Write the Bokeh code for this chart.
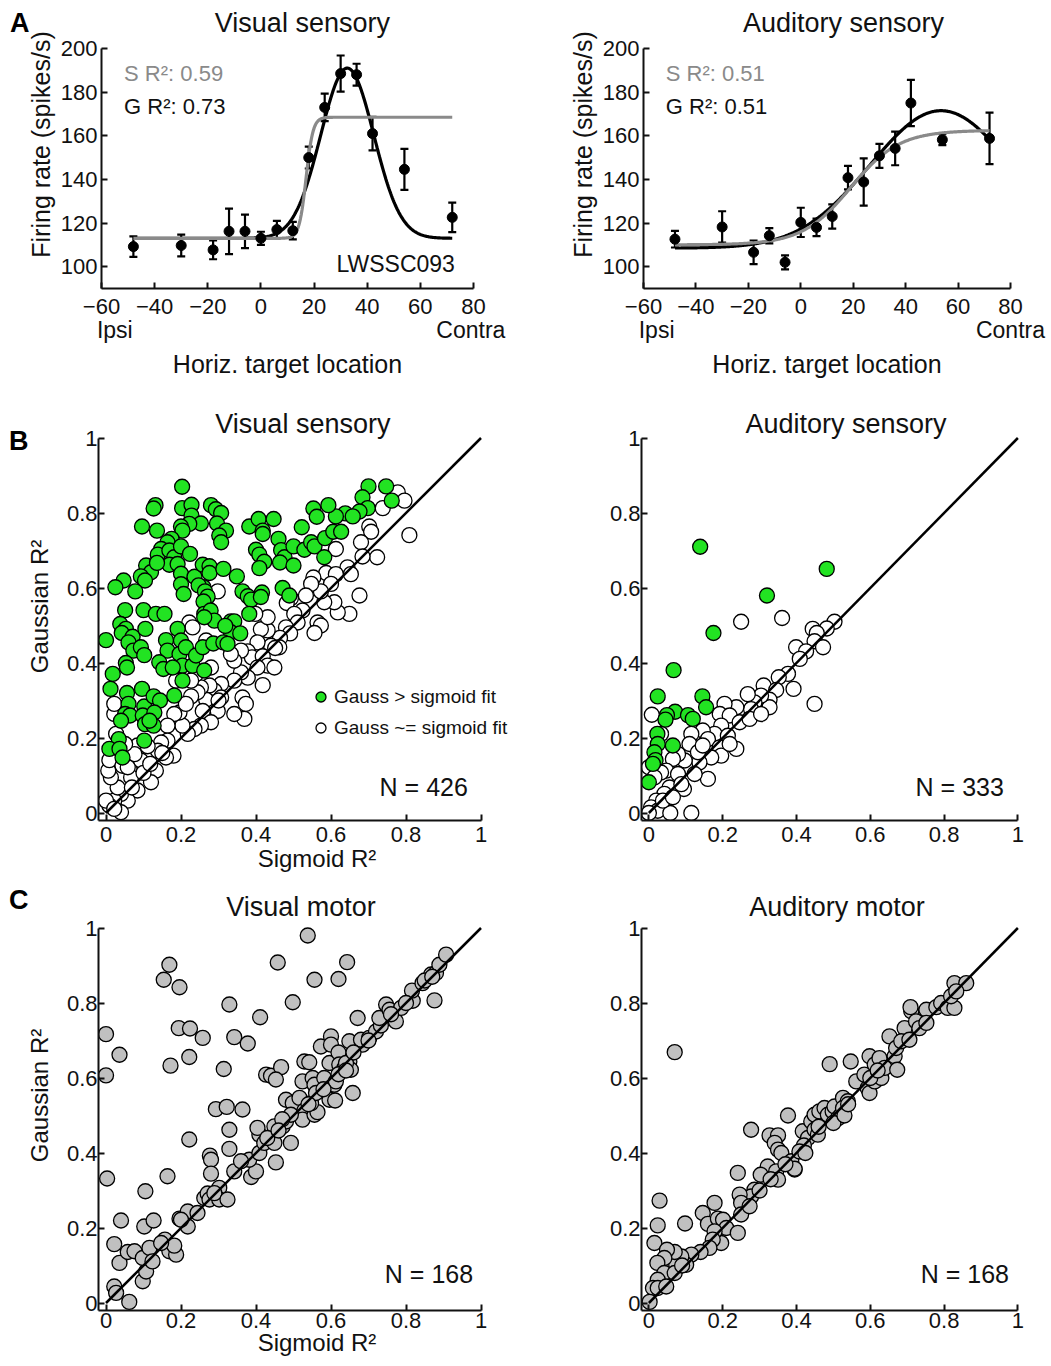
import numpy as np
from bokeh.plotting import figure
from bokeh.models import (LinearAxis, FixedTicker, Label, Legend, LegendItem,
                          Whisker, TeeHead, ColumnDataSource, Range1d)
from bokeh.layouts import column, row
from bokeh.embed import file_html
from bokeh.resources import INLINE

FONT = "Liberation Sans"
INK = "#111111"
GREEN = "#22e322"
GRAY_FILL = "#c0c0c0"
FIT_GRAY = "#8a8a8a"

# ---------------- Panel A data ----------------
locations = [-48, -30, -18, -12, -6, 0, 6, 12, 18, 24, 30, 36, 42, 54, 72]
vis_rate = [109.2, 109.7, 107.7, 116.2, 116.2, 113.0, 117.0, 116.5, 150.0, 173.0, 188.5, 188.0, 161.0, 144.6, 122.6]
vis_err = [4.7, 5.0, 4.3, 10.4, 7.7, 3.0, 4.0, 4.0, 5.0, 6.3, 8.3, 5.0, 7.7, 9.4, 6.8]
aud_rate = [112.6, 118.2, 106.6, 114.2, 102.0, 120.3, 118.0, 123.0, 140.8, 138.8, 150.8, 154.2, 175.0, 158.2, 158.8]
aud_err = [3.8, 7.2, 5.4, 3.5, 3.2, 6.7, 4.0, 5.6, 5.4, 10.8, 5.5, 7.7, 10.6, 2.5, 11.8]

# fitted model parameters
vis_gauss = dict(base=113.0, amp=78.0, mu=32.5, sd=10.0)
vis_sigm = dict(lo=113.0, hi=168.5, x0=17.0, k=1.3)
aud_gauss = dict(base=108.5, amp=63.0, mu=53.5, sd=27.0)
aud_sigm = dict(lo=110.0, hi=162.5, x0=19.0, k=9.3)

a_xticks = [-60, -40, -20, 0, 20, 40, 60, 80]
a_xlabels = ["\u221260", "\u221240", "\u221220", "0", "20", "40", "60", "80"]
a_yticks = [100, 120, 140, 160, 180, 200]
a_ylabels = ["100", "120", "140", "160", "180", "200"]

r_ticks = [0, 0.2, 0.4, 0.6, 0.8, 1]
r_labels = ["0", "0.2", "0.4", "0.6", "0.8", "1"]

# ---------------- Panel B data ----------------
vis_sens_gauss_x = [0.203,0.700,0.747,0.684,0.762,0.698,0.676,0.638,0.613,0.658,
    0.593,0.553,0.562,0.522,0.132,0.127,0.203,0.228,0.280,0.293,
    0.307,0.228,0.253,0.222,0.200,0.296,0.320,0.302,0.307,0.204,
    0.096,0.136,0.382,0.407,0.447,0.418,0.418,0.460,0.400,0.409,
    0.422,0.409,0.467,0.476,0.464,0.500,0.500,0.529,0.547,0.556,
    0.584,0.606,0.627,0.582,0.471,0.489,0.175,0.164,0.147,0.138,
    0.169,0.182,0.169,0.200,0.191,0.224,0.107,0.120,0.093,0.104,
    0.136,0.047,0.025,0.078,0.051,0.100,0.133,0.156,0.200,0.200,
    0.207,0.236,0.258,0.276,0.276,0.313,0.260,0.247,0.264,0.271,
    0.260,0.262,0.279,0.289,0.262,0.333,0.342,0.333,0.358,0.318,
    0.349,0.364,0.378,0.387,0.416,0.413,0.382,0.038,0.053,0.042,
    0.071,0.060,0.073,0.093,0.102,0.105,0.053,0.056,0.000,0.018,
    0.012,0.056,0.060,0.051,0.064,0.040,0.096,0.102,0.098,0.104,
    0.127,0.144,0.129,0.127,0.116,0.102,0.034,0.009,0.036,0.044,
    0.160,0.164,0.191,0.200,0.196,0.213,0.204,0.204,0.142,0.153,
    0.178,0.182,0.231,0.240,0.262,0.258,0.286,0.313,0.324]
vis_sens_gauss_y = [0.870,0.871,0.871,0.842,0.833,0.813,0.804,0.799,0.791,0.791,
    0.821,0.812,0.790,0.762,0.821,0.812,0.813,0.822,0.821,0.810,
    0.800,0.793,0.772,0.771,0.764,0.772,0.753,0.740,0.722,0.753,
    0.764,0.753,0.764,0.784,0.784,0.753,0.744,0.731,0.702,0.689,
    0.670,0.653,0.701,0.682,0.668,0.711,0.660,0.702,0.722,0.711,
    0.733,0.750,0.750,0.682,0.600,0.580,0.731,0.722,0.704,0.689,
    0.700,0.682,0.662,0.711,0.664,0.691,0.660,0.642,0.631,0.620,
    0.667,0.620,0.602,0.591,0.541,0.541,0.531,0.531,0.638,0.610,
    0.584,0.630,0.662,0.658,0.640,0.651,0.602,0.607,0.591,0.577,
    0.564,0.531,0.540,0.513,0.522,0.511,0.511,0.482,0.479,0.499,
    0.631,0.591,0.578,0.569,0.588,0.576,0.531,0.504,0.491,0.480,
    0.470,0.455,0.433,0.442,0.421,0.491,0.400,0.388,0.461,0.371,
    0.331,0.320,0.291,0.264,0.260,0.246,0.331,0.284,0.260,0.237,
    0.311,0.300,0.268,0.233,0.246,0.193,0.197,0.171,0.171,0.148,
    0.461,0.433,0.491,0.460,0.424,0.442,0.393,0.353,0.402,0.384,
    0.388,0.313,0.393,0.420,0.380,0.442,0.452,0.455,0.451]

vis_sens_equal = [(0.778,0.855),(0.796,0.833),(0.738,0.813),(0.809,0.741),(0.702,0.764),(0.707,0.750),(0.680,0.722),(0.723,0.682),(0.684,0.684),(0.613,0.704),
    (0.644,0.655),(0.653,0.637),(0.676,0.580),(0.649,0.531),(0.618,0.535),(0.587,0.640),(0.613,0.637),(0.600,0.611),(0.609,0.562),(0.582,0.562),
    (0.573,0.591),(0.553,0.628),(0.547,0.611),(0.533,0.580),(0.524,0.540),(0.564,0.508),(0.573,0.500),(0.556,0.480),(0.493,0.573),(0.482,0.560),
    (0.502,0.531),(0.511,0.508),(0.480,0.495),(0.491,0.479),(0.464,0.467),(0.462,0.442),(0.440,0.446),(0.431,0.487),(0.413,0.490),(0.431,0.522),
    (0.398,0.531),(0.404,0.455),(0.378,0.431),(0.389,0.415),(0.418,0.418),(0.431,0.393),(0.449,0.388),(0.418,0.341),(0.404,0.388),(0.378,0.361),
    (0.360,0.375),(0.342,0.353),(0.364,0.308),(0.373,0.291),(0.369,0.251),(0.342,0.264),(0.360,0.433),(0.342,0.406),(0.333,0.424),(0.307,0.344),
    (0.289,0.326),(0.276,0.340),(0.307,0.308),(0.289,0.295),(0.298,0.272),(0.267,0.302),(0.253,0.335),(0.244,0.322),(0.227,0.311),(0.258,0.272),
    (0.280,0.242),(0.253,0.233),(0.236,0.224),(0.218,0.211),(0.204,0.233),(0.196,0.268),(0.213,0.291),(0.182,0.264),(0.164,0.233),(0.164,0.193),
    (0.147,0.188),(0.138,0.166),(0.180,0.153),(0.160,0.148),(0.133,0.113),(0.120,0.082),(0.102,0.122),(0.093,0.140),(0.084,0.180),(0.076,0.157),
    (0.084,0.060),(0.058,0.033),(0.040,0.051),(0.022,0.033),(0.009,0.020),(0.000,0.033),(0.040,0.002),(0.022,0.011),(0.031,0.068),(0.013,0.095),
    (0.006,0.113),(0.009,0.141),(0.044,0.126),(0.067,0.095),(0.058,0.122),(0.027,0.211),(0.022,0.264),(0.022,0.291),(0.051,0.184),(0.111,0.178),
    (0.298,0.591),(0.222,0.508),(0.231,0.495),(0.267,0.460),(0.280,0.388),(0.240,0.370),(0.187,0.353),(0.227,0.353),
    (0.069,0.068),(0.100,0.107),(0.118,0.131),(0.150,0.160),(0.451,0.440),(0.300,0.300)]

aud_sens_gauss = [(0.139,0.710),(0.482,0.651),(0.320,0.580),(0.175,0.480),(0.067,0.381),(0.024,0.311),(0.145,0.311),(0.155,0.282),(0.071,0.270),(0.106,0.261),
    (0.119,0.251),(0.049,0.261),(0.045,0.249),(0.023,0.211),(0.024,0.184),(0.065,0.180),(0.015,0.162),(0.018,0.141),(0.000,0.082),(0.011,0.131)]

aud_sens_equal = [(0.250,0.510),(0.361,0.520),(0.503,0.510),(0.482,0.492),(0.444,0.491),(0.455,0.480),(0.449,0.458),(0.472,0.442),(0.399,0.442),(0.426,0.431),
    (0.409,0.411),(0.377,0.371),(0.352,0.362),(0.392,0.331),(0.449,0.291),(0.311,0.340),(0.345,0.328),(0.327,0.302),(0.327,0.282),(0.304,0.313),
    (0.286,0.295),(0.268,0.317),(0.277,0.277),(0.237,0.282),(0.205,0.291),(0.192,0.264),(0.219,0.260),(0.246,0.242),(0.273,0.251),(0.304,0.264),
    (0.196,0.233),(0.178,0.211),(0.214,0.206),(0.146,0.220),(0.115,0.211),(0.110,0.184),(0.160,0.197),(0.192,0.175),(0.196,0.153),(0.237,0.171),
    (0.219,0.184),(0.169,0.148),(0.160,0.091),(0.137,0.135),(0.097,0.140),(0.079,0.157),(0.065,0.144),(0.047,0.113),(0.033,0.108),(0.000,0.122),
    (0.008,0.262),(0.033,0.211),(0.015,0.095),(0.079,0.104),(0.095,0.064),(0.056,0.068),(0.042,0.051),(0.020,0.033),(0.006,0.015),(0.024,0.006),
    (0.058,0.000),(0.115,0.000),(0.000,0.000),(0.038,0.033),(0.065,0.042),(0.088,0.077),(0.124,0.104),(0.133,0.162),(0.146,0.180)]

# ---------------- Panel C data ----------------
vis_motor = [(0.538,0.980),(0.169,0.902),(0.458,0.908),(0.643,0.909),(0.154,0.862),(0.556,0.862),(0.620,0.864),(0.196,0.842),(0.498,0.802),(0.329,0.796),
    (0.411,0.762),(0.194,0.733),(0.224,0.732),(0.258,0.707),(0.342,0.709),(0.378,0.692),(0.000,0.717),(0.036,0.662),(0.222,0.656),(0.172,0.633),
    (0.314,0.624),(0.000,0.607),(0.293,0.517),(0.322,0.523),(0.364,0.516),(0.329,0.462),(0.222,0.436),(0.329,0.411),(0.277,0.393),(0.280,0.382),
    (0.280,0.345),(0.164,0.338),(0.003,0.332),(0.105,0.298),(0.342,0.351),(0.040,0.220),(0.102,0.204),(0.127,0.220),(0.022,0.157),(0.036,0.107),
    (0.058,0.136),(0.076,0.138),(0.098,0.058),(0.107,0.084),(0.098,0.120),(0.116,0.147),(0.124,0.111),(0.157,0.169),(0.169,0.138),(0.187,0.129),
    (0.196,0.225),(0.218,0.244),(0.218,0.204),(0.244,0.240),(0.200,0.222),(0.022,0.044),(0.027,0.027),(0.062,0.003),(0.262,0.280),(0.271,0.292),
    (0.276,0.276),(0.302,0.307),(0.302,0.276),(0.289,0.293),(0.387,0.336),(0.400,0.351),(0.382,0.382),(0.409,0.400),(0.409,0.449),(0.422,0.427),
    (0.449,0.427),(0.453,0.375),(0.449,0.471),(0.471,0.471),(0.480,0.484),(0.493,0.427),(0.480,0.542),(0.498,0.533),(0.516,0.547),(0.529,0.513),
    (0.524,0.489),(0.556,0.502),(0.564,0.509),(0.427,0.609),(0.440,0.606),(0.467,0.629),(0.453,0.596),(0.524,0.591),(0.551,0.600),(0.556,0.582),
    (0.529,0.644),(0.542,0.642),(0.573,0.684),(0.600,0.711),(0.600,0.689),(0.596,0.640),(0.582,0.600),(0.596,0.542),(0.611,0.540),(0.609,0.582),
    (0.620,0.668),(0.622,0.636),(0.636,0.627),(0.649,0.644),(0.649,0.698),(0.658,0.560),(0.653,0.622),(0.671,0.760),(0.684,0.689),(0.680,0.702),
    (0.702,0.707),(0.720,0.724),(0.733,0.740),(0.729,0.760),(0.747,0.796),(0.756,0.782),(0.773,0.751),(0.787,0.787),(0.818,0.806),(0.816,0.833),
    (0.844,0.853),(0.867,0.876),(0.880,0.880),(0.876,0.807),(0.889,0.902),(0.907,0.929),(0.613,0.591),(0.182,0.153),(0.147,0.160),(0.360,0.378),
    (0.404,0.467),(0.493,0.502),(0.324,0.276),(0.547,0.533),(0.640,0.640),(0.660,0.668),(0.700,0.700),(0.760,0.770),(0.800,0.800),(0.850,0.860),
    (0.870,0.870),(0.560,0.560),(0.580,0.570),(0.470,0.490),(0.430,0.440),(0.460,0.460),(0.620,0.610),(0.640,0.620),(0.540,0.530)]

aud_motor = [(0.070,0.669),(0.490,0.637),(0.547,0.644),(0.377,0.500),(0.277,0.462),(0.241,0.347),(0.327,0.447),(0.350,0.447),(0.341,0.427),(0.350,0.409),
    (0.359,0.400),(0.322,0.364),(0.345,0.351),(0.350,0.329),(0.303,0.342),(0.395,0.356),(0.386,0.378),(0.286,0.302),(0.277,0.284),(0.246,0.289),
    (0.250,0.267),(0.250,0.236),(0.273,0.258),(0.029,0.273),(0.024,0.207),(0.015,0.160),(0.098,0.212),(0.146,0.240),(0.178,0.267),(0.160,0.211),
    (0.187,0.225),(0.201,0.222),(0.210,0.200),(0.241,0.187),(0.196,0.160),(0.178,0.191),(0.173,0.169),(0.164,0.147),(0.140,0.136),(0.115,0.129),
    (0.101,0.102),(0.088,0.124),(0.074,0.102),(0.070,0.136),(0.049,0.142),(0.042,0.120),(0.023,0.107),(0.042,0.080),(0.024,0.062),(0.011,0.040),
    (0.024,0.040),(0.047,0.044),(0.002,0.003),(0.417,0.458),(0.431,0.440),(0.420,0.420),(0.408,0.404),(0.424,0.400),(0.440,0.484),(0.449,0.502),
    (0.462,0.511),(0.476,0.520),(0.485,0.502),(0.498,0.511),(0.503,0.524),(0.512,0.492),(0.521,0.502),(0.526,0.547),(0.539,0.538),(0.526,0.520),
    (0.562,0.591),(0.593,0.573),(0.598,0.560),(0.584,0.609),(0.598,0.658),(0.612,0.636),(0.612,0.591),(0.625,0.653),(0.630,0.600),(0.639,0.627),
    (0.652,0.711),(0.666,0.658),(0.673,0.622),(0.670,0.680),(0.693,0.733),(0.684,0.698),(0.706,0.702),(0.711,0.778),(0.709,0.789),(0.724,0.751),
    (0.733,0.733),(0.752,0.782),(0.752,0.747),(0.779,0.789),(0.792,0.800),(0.810,0.787),(0.828,0.787),(0.819,0.818),(0.828,0.853),(0.860,0.853),
    (0.833,0.831),(0.395,0.358),(0.449,0.462),(0.458,0.449),(0.500,0.480),(0.460,0.470),(0.530,0.500),(0.600,0.600),(0.620,0.620),(0.540,0.530),
    (0.300,0.300),(0.330,0.330),(0.370,0.370),(0.070,0.080),(0.090,0.100)]

unity = [0, 1]


def style_axis(ax, ticks, labels, label_size="25px", tick_size="22px"):
    ax.ticker = FixedTicker(ticks=ticks)
    ax.major_label_overrides = {t: l for t, l in zip(ticks, labels)}
    ax.axis_line_width = 2
    ax.axis_line_color = INK
    ax.major_tick_line_width = 2
    ax.major_tick_line_color = INK
    ax.major_tick_in = 6
    ax.major_tick_out = 0
    ax.minor_tick_line_color = None
    ax.major_label_text_font = FONT
    ax.major_label_text_font_size = tick_size
    ax.major_label_text_color = INK
    ax.axis_label_text_font = FONT
    ax.axis_label_text_font_size = label_size
    ax.axis_label_text_font_style = "normal"
    ax.axis_label_text_color = INK


def letter_axis(p, y, letter, standoff):
    ax = LinearAxis(ticker=FixedTicker(ticks=[y]), major_label_overrides={y: letter},
                    axis_line_color=None, major_tick_line_color=None, minor_tick_line_color=None,
                    major_tick_in=0, major_tick_out=0, major_label_standoff=standoff,
                    major_label_text_font=FONT, major_label_text_font_style="bold",
                    major_label_text_font_size="27px", major_label_text_color="black")
    p.add_layout(ax, "left")


def base_fig(width, height, bl, br, bt, bb, xr, yr):
    p = figure(width=width, height=height, x_range=xr, y_range=yr,
               output_backend="svg", toolbar_location=None,
               min_border_left=bl, min_border_right=br,
               min_border_top=bt, min_border_bottom=bb)
    p.outline_line_color = None
    p.grid.visible = False
    p.background_fill_color = "white"
    p.border_fill_color = "white"
    return p


def add_text(p, x, y, text, size, color=INK, align="left"):
    p.add_layout(Label(x=x, y=y, text=text, text_font=FONT, text_font_size=size,
                       text_color=color, text_align=align, text_baseline="middle"))


def panel_a(title, title_x, rate, err, gp, sp, s_txt, g_txt, width, bl, br, contra_x, letter=None):
    p = base_fig(width, 392, bl, br, 0, 104, Range1d(-60, 80), Range1d(90, 222))
    ax_x, ax_y = p.xaxis[0], p.yaxis[0]
    style_axis(ax_x, a_xticks, a_xlabels)
    style_axis(ax_y, a_yticks, a_ylabels)
    ax_y.bounds = (90, 200)
    ax_x.major_label_standoff = 10
    ax_y.major_label_standoff = 4
    ax_y.axis_label = "Firing rate (spikes/s)"
    ax_y.axis_label_standoff = 3

    side = LinearAxis()
    style_axis(side, [-55, contra_x], ["Ipsi", "Contra"])
    side.axis_line_color = None
    side.major_tick_line_color = None
    side.major_tick_in = 0
    side.major_label_standoff = 0
    side.major_label_text_font_size = "23px"
    side.axis_label = "Horiz. target location"
    side.axis_label_standoff = 4
    p.add_layout(side, "below")
    if letter:
        letter_axis(p, 211.9, letter, -6)

    xs = np.linspace(-48, 72, 400)
    g = gp["base"] + gp["amp"] * np.exp(-(xs - gp["mu"]) ** 2 / (2 * gp["sd"] ** 2))
    s = sp["lo"] + (sp["hi"] - sp["lo"]) / (1 + np.exp(-(xs - sp["x0"]) / sp["k"]))
    p.line(xs, g, line_color="black", line_width=3.2)
    p.line(xs, s, line_color=FIT_GRAY, line_width=3.2)

    src = ColumnDataSource(dict(x=locations, y=rate,
                                lo=[r - e for r, e in zip(rate, err)],
                                hi=[r + e for r, e in zip(rate, err)]))
    p.add_layout(Whisker(source=src, base="x", upper="hi", lower="lo", dimension="height",
                         line_width=2.2, line_color="black",
                         upper_head=TeeHead(size=8, line_width=2.2, line_color="black"),
                         lower_head=TeeHead(size=8, line_width=2.2, line_color="black")))
    p.scatter("x", "y", source=src, size=10, color="black")

    add_text(p, title_x, 211.5, title, "27px", align="center")
    add_text(p, -51.5, 188.5, s_txt, "22px", color=FIT_GRAY)
    add_text(p, -51.5, 173.3, g_txt, "22px")
    return p


def panel_r(title, title_xy, height, bb, width, bl, x_end, y_end, n_txt, n_xy,
            xlab, ylab, tick_sf, xlab_sf, letter=None, letter_y=1.0):
    p = base_fig(width, height, bl, 0, 0, bb, Range1d(-0.02, x_end), Range1d(-0.02, y_end))
    ax_x, ax_y = p.xaxis[0], p.yaxis[0]
    style_axis(ax_x, r_ticks, r_labels, "24px")
    style_axis(ax_y, r_ticks, r_labels, "24px")
    ax_x.bounds = (-0.02, 1)
    ax_y.bounds = (-0.02, 1)
    ax_x.major_label_standoff = tick_sf
    ax_y.major_label_standoff = 1
    if xlab:
        ax_x.axis_label = "Sigmoid R\u00b2"
        ax_x.axis_label_standoff = xlab_sf
    if ylab:
        ax_y.axis_label = "Gaussian R\u00b2"
        ax_y.axis_label_standoff = 11
    if letter:
        letter_axis(p, letter_y, letter, -6)
    add_text(p, title_xy[0], title_xy[1], title, "27px", align="center")
    add_text(p, n_xy[0], n_xy[1], n_txt, "25px", align="right")
    return p


def xy(pts):
    return [a for a, b in pts], [b for a, b in pts]


# ---------------- Row A ----------------
pA1 = panel_a("Visual sensory", 15.6, vis_rate, vis_err, vis_gauss, vis_sigm,
              "S R\u00b2: 0.59", "G R\u00b2: 0.73", 520, 101, 47, 79, letter="A")
add_text(pA1, 73.0, 101.4, "LWSSC093", "23px", align="right")
pA2 = panel_a("Auditory sensory", 16.3, aud_rate, aud_err, aud_gauss, aud_sigm,
              "S R\u00b2: 0.51", "G R\u00b2: 0.51", 528, 123, 38, 80)

# ---------------- Row B ----------------
B_Y_END = -0.02 + 428 / 375
pB1 = panel_r("Visual sensory", (0.525, 1.037), 488, 60, 535, 98, -0.02 + 437 / 375, B_Y_END,
              "N = 426", (0.965, 0.069), True, True, 6, 0, letter="B", letter_y=0.992)
wx, wy = xy(vis_sens_equal)
r_w = pB1.scatter(wx, wy, size=15, fill_color="white", line_color="black", line_width=1.3)
r_g = pB1.scatter(vis_sens_gauss_x, vis_sens_gauss_y, size=15, fill_color=GREEN, line_color="black", line_width=1.3)
pB1.line(unity, unity, line_color="black", line_width=2.5)
leg = Legend(items=[LegendItem(label="Gauss > sigmoid fit", renderers=[r_g]),
                    LegendItem(label="Gauss ~= sigmoid fit", renderers=[r_w])],
             location=(210, 80), border_line_color=None, background_fill_alpha=0,
             padding=0, margin=0, spacing=6, label_standoff=1,
             label_text_font=FONT, label_text_font_size="19px", label_text_color=INK,
             glyph_width=25, glyph_height=25)
pB1.add_layout(leg)

pB2 = panel_r("Auditory sensory", (0.534, 1.037), 488, 60, 513, 106, -0.02 + 407 / 369, B_Y_END,
              "N = 333", (0.962, 0.069), False, False, 6, 0)
wx, wy = xy(aud_sens_equal)
gx, gy = xy(aud_sens_gauss)
pB2.scatter(wx, wy, size=15, fill_color="white", line_color="black", line_width=1.3)
pB2.scatter(gx, gy, size=15, fill_color=GREEN, line_color="black", line_width=1.3)
pB2.line(unity, unity, line_color="black", line_width=2.5)

# ---------------- Row C ----------------
C_Y_END = -0.02 + 430 / 375
pC1 = panel_r("Visual motor", (0.52, 1.056), 484, 54, 535, 98, -0.02 + 437 / 375, C_Y_END,
              "N = 168", (0.979, 0.077), True, True, 2, -2, letter="C", letter_y=1.099)
mx, my = xy(vis_motor)
pC1.scatter(mx, my, size=15, fill_color=GRAY_FILL, line_color="black", line_width=1.3)
pC1.line(unity, unity, line_color="black", line_width=2.5)

pC2 = panel_r("Auditory motor", (0.51, 1.056), 484, 54, 513, 106, -0.02 + 407 / 369, C_Y_END,
              "N = 168", (0.976, 0.077), False, False, 2, -2)
mx, my = xy(aud_motor)
pC2.scatter(mx, my, size=15, fill_color=GRAY_FILL, line_color="black", line_width=1.3)
pC2.line(unity, unity, line_color="black", line_width=2.5)

layout = column(row(pA1, pA2), row(pB1, pB2), row(pC1, pC2))
open("out.html", "w").write(file_html(layout, INLINE))
